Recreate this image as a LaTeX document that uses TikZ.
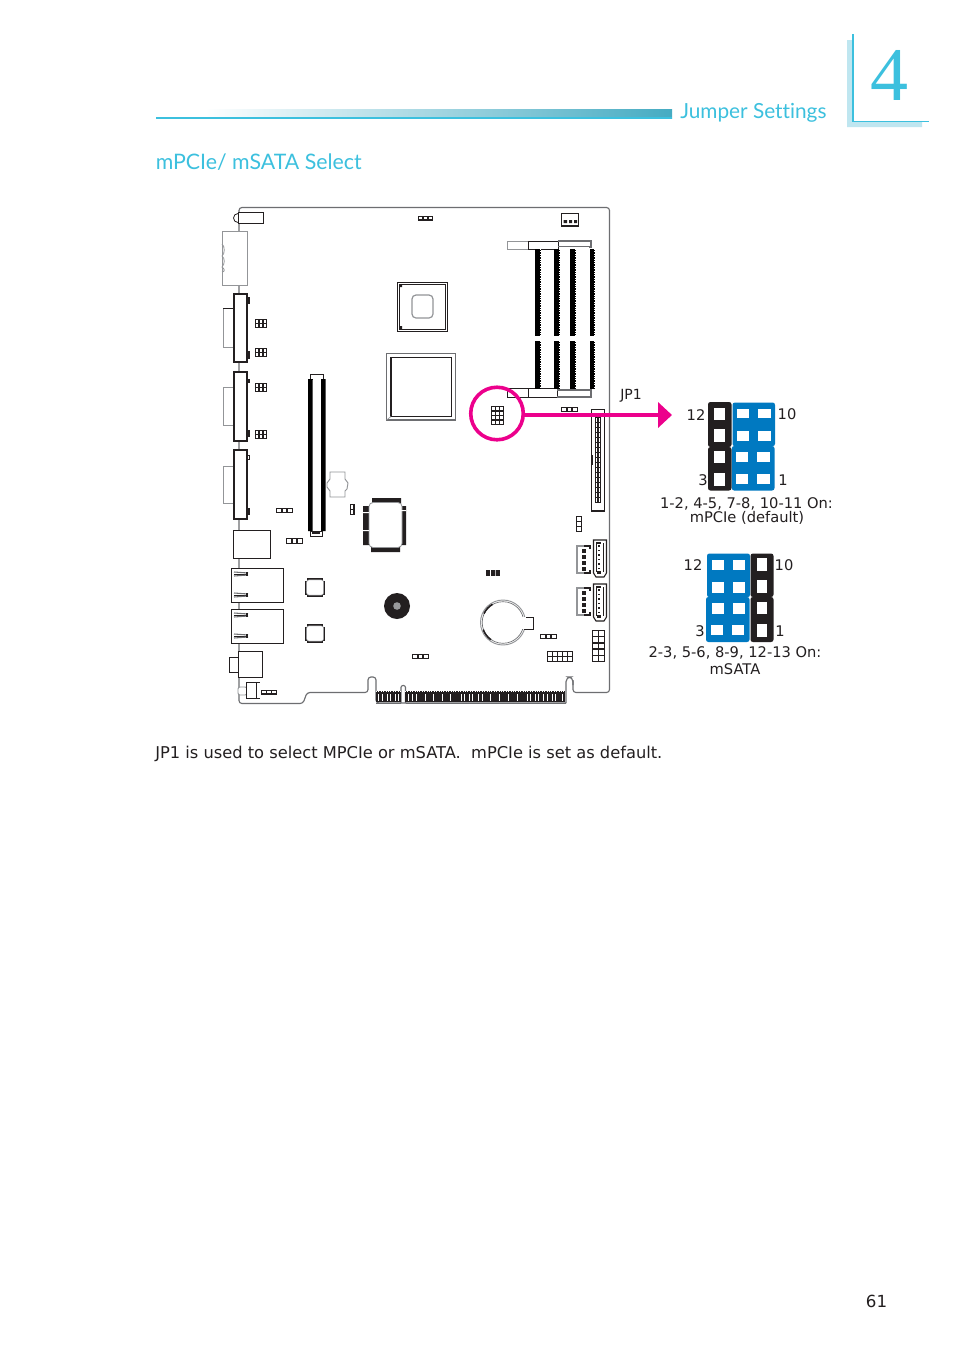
\documentclass[tikz,border=0pt]{standalone}
\usepackage{fontspec}
\setmainfont{DejaVu Sans}
\newfontfamily\headfont[Ligatures=NoCommon]{Lato}
\newfontfamily\numfont{Liberation Serif}
\usetikzlibrary{arrows.meta}
\definecolor{ink}{HTML}{231F20}
\definecolor{capblue}{HTML}{0079C1}
\definecolor{cyanhead}{HTML}{3CC0DE}
\definecolor{chapbar}{HTML}{BFE6F0}
\definecolor{tealbar}{HTML}{45ABC2}
\definecolor{magentaline}{HTML}{EC008C}
\definecolor{boardgrey}{HTML}{6D6E71}
\definecolor{ghost}{HTML}{939598}
\tikzset{
  outl/.style={draw=ink,line width=0.75pt,fill=white},
  thinl/.style={draw=ink,line width=0.6pt},
  greyl/.style={draw=ghost,line width=0.75pt,fill=white},
  boardl/.style={draw=boardgrey,line width=0.85pt,rounded corners=2.2pt},
  lbl/.style={inner sep=0pt,text=ink,font=\fontsize{11}{12}\selectfont},
  jcap/.style={rounded corners=1.8pt},
  pintips/.style={white,line width=0.6pt,dash pattern=on 0.7pt off 1.1pt},
}
% x1 y1 x2 y2 cols rows
\newcommand\pinblock[6]{%
  \fill[ink] (#1,#2) rectangle (#3,#4);
  \pgfmathsetmacro\pw{(#3-#1-1)/#5}
  \pgfmathsetmacro\ph{(#4-#2-1)/#6}
  \foreach \ci in {1,...,#5}{\foreach \cj in {1,...,#6}{
    \pgfmathsetmacro\cxa{#1+0.5+(\ci-1)*\pw+0.75}
    \pgfmathsetmacro\cya{#2+0.5+(\cj-1)*\ph+0.75}
    \pgfmathsetmacro\cxb{#1+0.5+\ci*\pw-0.75}
    \pgfmathsetmacro\cyb{#2+0.5+\cj*\ph-0.75}
    \fill[white] (\cxa,\cya) rectangle (\cxb,\cyb);
  }}
}
\newcommand\whitecells[2]{\foreach \yy/\yb in {#2}{\foreach \xx/\xb in {#1}{\fill[white] (\xx,\yy) rectangle (\xb,\yb);}}}
\begin{document}
\begin{tikzpicture}[x=0.75pt,y=-0.75pt]
\useasboundingbox (0,0) rectangle (954,1350);
\fill[white] (0,0) rectangle (954,1350);

% chapter mark
\fill[chapbar] (847,40) rectangle (853,127) (847,121) rectangle (922,127);
\draw[cyanhead,line width=0.8pt] (853,34) -- (853,121.5) -- (929,121.5);
\node[inner sep=0pt,text=cyanhead,font=\numfont\fontsize{57}{60}\selectfont] (chapnum) at (889,75) {4};

% header
\shade[left color=white,right color=tealbar] (205,109) rectangle (672,118);
\fill[cyanhead] (156,117) rectangle (672,119);
\node[inner sep=0pt,text=cyanhead,anchor=west,font=\headfont\fontsize{15.6}{20}\selectfont] (jumperhead) at (680,112.5) {Jumper Settings};
\node[inner sep=0pt,text=cyanhead,anchor=west,font=\headfont\fontsize{16}{20}\selectfont] (secthead) at (155.5,162) {mPCIe/ mSATA Select};

% board outline
\draw[boardl] (239,222) -- (239,207.5) -- (609.5,207.5) -- (609.5,692.5) -- (573,692.5) -- (573,680);
\draw[boardl,rounded corners=3.5pt] (573,685) -- (573,677) -- (566,677) -- (566,703);
\draw[boardl] (566,703) -- (376,703) -- (376,677) -- (368,677) -- (368,692.5) -- (307,692.5) -- (303,703.5) -- (239,703.5) -- (239,220);
\draw[boardl,rounded corners=1.5pt] (401,703) -- (401,685.5) -- (405.5,685.5) -- (405.5,703);

% top left connector
\draw[draw=ink,line width=0.6pt] (238,222.5) arc (90:270:4.5);
\draw[outl] (238,212.5) rectangle (263.5,223);
% serial
\draw[greyl] (222,231) rectangle (247,285);
\draw[ghost,line width=0.6pt] (222,244) .. controls (225,246) and (225,254) .. (222,256) .. controls (225,258) and (225,264) .. (222,267) .. controls (225,269) and (225,272) .. (222,272);
\foreach \ya/\yb/\la/\lb/\lc/\ld/\ma/\mb in {294/362/297/304/351/359/308/347, 372/441/379/383/430/437/387/425, 450/519/455/460/508/515/466/503}{
  \draw[greyl] (223,\ma) rectangle (234,\mb);
  \fill[ink] (247,\la) rectangle (249.5,\lb);
  \fill[ink] (247,\lc) rectangle (249.5,\ld);
  \draw[draw=ink,line width=0.85pt,fill=white] (234,\ya) rectangle (247,\yb);
}
\draw[ink,line width=0.9pt] (223,308.5) -- (234,308.5);
\fill[white] (247.5,456) rectangle (248.8,459);
% side headers
\pinblock{255}{319}{267}{328}{3}{2}
\pinblock{255}{348}{267}{357}{3}{2}
\pinblock{255}{383}{267}{392}{3}{2}
\pinblock{255}{430}{267}{439}{3}{2}
% long slot
\draw[thinl,fill=white] (310,374) rectangle (323.5,379);
\fill[black] (308,379) rectangle (312.5,531) (321,379) rectangle (325.5,531);
\fill[white] (312.5,379) rectangle (321,531);
\draw[thinl,fill=white] (310,531) rectangle (322.5,536);
\fill[ink] (312,531) rectangle (320,534);
% north bridge
\draw[outl,line width=0.9pt] (397.5,282.5) rectangle (447.5,331.5);
\draw[thinl] (399.5,284.5) rectangle (445.5,329.5);
\draw[ghost,line width=0.9pt,rounded corners=3pt] (412,295) rectangle (433,318);
\fill[ink] (400,285) rectangle (402,287) (400,326) rectangle (402,329);
% big chip
\draw[boardgrey,line width=0.8pt,fill=white] (386.5,353.5) rectangle (455.5,420);
\draw[ink,line width=0.9pt] (391,357.5) rectangle (451.5,416.5);
\draw[ghost,line width=0.5pt] (386.5,420) -- (391,416.5);
% top connectors
\pinblock{418}{216}{433}{220.5}{3}{1}
\draw[ink,line width=0.9pt,fill=white] (561.5,213.5) rectangle (578.5,226);
\fill[ink] (561,224.5) rectangle (579,227);
\fill[ink] (563.5,220) rectangle (567,223) (569,220) rectangle (572,223) (574,220) rectangle (577,223);
% SODIMM
\draw[greyl] (507,241) rectangle (528,249);
\draw[thinl,fill=white] (528,241) -- (558,241) -- (558,249) -- (528,249) -- cycle;
\draw[boardgrey,line width=0.8pt] (558,241) -- (591,241) -- (591,247) -- (589,247);
\draw[boardgrey,line width=0.6pt] (558,246) -- (591,246);
\draw[thinl,fill=white] (507,388.5) rectangle (528,397);
\draw[thinl,fill=white] (528,388.5) rectangle (557,397);
\draw[boardgrey,line width=0.8pt] (557,390) -- (591,390) -- (591,397) -- (557,397);
\foreach \xa/\xb in {535/541,554/560,570/576,590/595}{
  \fill[black] (\xa,249) rectangle (\xb,336);
  \fill[black] (\xa,341) rectangle (\xb,388.5);
  \draw[pintips] (\xb-0.3,249) -- (\xb-0.3,336) (\xb-0.3,341) -- (\xb-0.3,388.5);
}
% connectors near JP1
\pinblock{561}{407}{578}{412}{3}{1}
% long pin header
\draw[draw=ink,line width=0.9pt,fill=white] (591.5,409.5) rectangle (604.8,511);
\pinblock{595}{417}{601}{503}{2}{17}
\fill[ink] (591,455) rectangle (592.8,465);
% JP1 block
\pinblock{491}{406}{504}{425}{3}{4}
% lower-left slot items
\pinblock{276}{508}{293}{513}{3}{1}
\pinblock{286}{538}{303}{544}{3}{1}
\pinblock{350}{504}{354.5}{515}{1}{2}
% ghost socket
\draw[ghost,line width=0.7pt,fill=white] (330,472) -- (345,472) -- (345,479) -- (348,483) -- (347,489) -- (345,491) -- (345,497) -- (330,497) -- (330,491) -- (327,487) -- (327,483) -- (330,479) -- cycle;
% south chip
\fill[ink] (372,498) rectangle (401,503.5) (371,547) rectangle (400,552) (363,506) rectangle (369.5,545) (401,506) rectangle (406,545);
\draw[ghost,line width=0.6pt,fill=white,rounded corners=3pt] (369,502.5) rectangle (402,547.5);
\fill[white] (363,512) rectangle (369,513) (363,530) rectangle (369,531) (401,510) rectangle (406,511);
% rear IO lower
\draw[outl] (233.5,530.5) rectangle (270.5,558);
\draw[outl] (231.5,568.5) rectangle (283,602.5);
\draw[outl] (231.5,609.5) rectangle (283,643);
\foreach \yy in {573,594,614,635}{
  \draw[boardgrey,line width=0.8pt] (234,\yy-1) -- (248,\yy);
  \draw[ink,line width=0.7pt] (234,\yy+1) -- (248,\yy+1);
  \draw[boardgrey,line width=0.8pt] (234,\yy+3) -- (248,\yy+2);
  \fill[ink] (246,\yy-1) rectangle (248,\yy+3);
}
% small square chips
\foreach \ya/\yb in {578/597,624/643}{
  \fill[ink] (307,\ya) rectangle (323,\yb);
  \fill[ink] (305,\ya+2.5) rectangle (325,\yb-2.5);
  \draw[ghost,line width=0.4pt,fill=white,rounded corners=2pt] (306.5,\ya+1.8) rectangle (323.7,\yb-1.8);
}
% buzzer
\fill[ink] (397,606) circle[radius=13];
\fill[boardgrey!70] (397,606) circle[radius=3.8];
% audio
\draw[outl] (229.5,657.5) rectangle (238,672);
\draw[outl] (238,651.5) rectangle (262.5,677);
% power jack
\draw[ghost,line width=0.7pt,fill=white,rounded corners=1.5pt] (238,687) rectangle (247,695);
\draw[draw=ink,line width=0.6pt,fill=white] (246,682) rectangle (256,698);
\draw[ink,line width=0.6pt] (246,682) -- (260,682) (246,698) -- (260,698);
\pinblock{261}{690}{277}{694.5}{3}{1}
% bottom right connectors
\pinblock{576}{516}{582}{532}{1}{3}
\pinblock{412}{654}{429}{659}{3}{1}
\fill[ink] (486,570) rectangle (500,576);
\fill[white] (490.2,570) rectangle (490.8,576) (495,570) rectangle (495.6,576);
\pinblock{540}{634}{557}{639}{3}{1}
\pinblock{547}{651}{573}{662}{5}{2}
\pinblock{592}{630}{605}{662}{2}{5}
% fan headers
\foreach \ya in {546,588}{
  \draw[ghost,line width=0.9pt] (590,\ya) -- (577,\ya) -- (577,\ya+27) -- (590,\ya+27);
  \draw[ink,line width=0.8pt] (584,\ya) -- (590,\ya) -- (590,\ya+3);
  \draw[ink,line width=0.8pt] (584,\ya+27) -- (590,\ya+27) -- (590,\ya+24);
  \foreach \k in {0,1,2,3}{\fill[ink] (582,\ya+3+\k*6) rectangle (586,\ya+7+\k*6);}
}
% wafer connectors
\foreach \ya in {540,584}{
  \draw[draw=ink,line width=0.8pt,fill=white] (593.5,\ya) -- (606.5,\ya) -- (606.5,\ya+33) -- (604,\ya+37) -- (596,\ya+37) -- (593.5,\ya+33) -- cycle;
  \draw[ink,line width=0.5pt] (596,\ya+3) -- (596,\ya+32) (603,\ya+3) -- (603,\ya+32);
  \fill[ink] (596,\ya+2) rectangle (601,\ya+3.5);
  \foreach \k in {0,1,2,3,4,5,6}{\fill[ink] (598,\ya+5+\k*4.5) rectangle (600,\ya+6.5+\k*4.5);}
  \fill[ink] (597,\ya+31) rectangle (600.5,\ya+34);
}
% battery
\draw[ghost,line width=0.7pt,fill=white] (503,622.5) circle[radius=22.5];
\draw[boardgrey,line width=0.5pt] (503,622.5) circle[radius=20.8];
\fill[white] (523,617.5) rectangle (527,628.5);
\draw[ink,line width=0.6pt,fill=white] (523.5,617) -- (533,617) -- (533,629) -- (523.5,629);
\fill[white] (520,617.4) rectangle (526,628.6);
\draw[ink,line width=1.2pt] (503,622.5) ++(205:21) arc (205:240:21);
\draw[ink,line width=1.2pt] (503,622.5) ++(125:21) arc (125:160:21);
% PCIe
\fill[ink] (376,691) rectangle (401,702);
\fill[ink] (405,691) rectangle (565,702);
\draw[boardgrey,line width=0.6pt] (376,703) -- (401,703) (405.5,703) -- (566,703);
\foreach \x in {378,382,387,390,395,398}{\fill[white] (\x,693.5) rectangle (\x+1.3,701);}
\foreach \x in {408,412,416,425,433,442,450,461,464,469,472,478,482,490,499,508,517,527,530,535,538,543,547,552,555,562}{\fill[white] (\x,693.5) rectangle (\x+1.4,701);}
\draw[pintips] (376,691.2) -- (401,691.2) (405,691.2) -- (565,691.2);

% JP1 pointer
\node[circle,draw=magentaline,line width=2.7pt,inner sep=0pt,minimum size=39.4pt,fill=none] (jpring) at (497,413.5) {};
\coordinate (jptip) at (672,415);
\draw[magentaline,line width=2.7pt,-{Triangle[length=10.5pt,width=18.8pt]}] (jpring.east |- jptip) -- (jptip);
\node[lbl,font=\fontsize{10.5}{12}\selectfont] (jplabel) at (631,396) {JP1};

% jumper 1
\fill[ink,jcap] (708,402) rectangle (731.5,447);
\fill[ink,jcap] (708,447) rectangle (731.5,490.5);
\fill[capblue,jcap] (732.5,402.5) rectangle (775,446.2);
\fill[capblue,jcap] (731.8,446) rectangle (774.5,490.5);
\whitecells{714/725}{408/420,429/442,451/463,473/486}
\whitecells{737/749,758/771}{409/418,431/441}
\whitecells{736/748,757/770}{452/462,474/484}
\node[lbl] (a12) at (696,415) {12};
\node[lbl] (a10) at (787,414) {10};
\node[lbl] (a3) at (703,480) {3};
\node[lbl] (a1) at (783,480) {1};
\node[lbl] (acap1) at (746.5,503.5) {1-2, 4-5, 7-8, 10-11 On:};
\node[lbl] (acap2) at (747,518) {mPCIe (default)};

% jumper 2
\fill[capblue,jcap] (707,553.5) rectangle (750,597.2);
\fill[capblue,jcap] (706,597) rectangle (749.5,642);
\fill[ink,jcap] (750.5,553.5) rectangle (773.5,597);
\fill[ink,jcap] (750.5,597) rectangle (773.5,642);
\whitecells{757/767}{558/571,580/593,602/614,624/637}
\whitecells{712/724,733/745}{560/570,582/593,603/614}
\whitecells{711/723,732/744}{625/635}
\node[lbl] (b12) at (693,565) {12};
\node[lbl] (b10) at (784,565) {10};
\node[lbl] (b3) at (700,631) {3};
\node[lbl] (b1) at (780,631) {1};
\node[lbl] (bcap1) at (735,653) {2-3, 5-6, 8-9, 12-13 On:};
\node[lbl] (bcap2) at (735,669) {mSATA};

% body
\node[inner sep=0pt,anchor=west,text=ink,font=\fontsize{12.2}{14}\selectfont] (bodytxt) at (155,754) {JP1 is used to select MPCIe or mSATA.\ \ mPCIe is set as default.};
\node[inner sep=0pt,text=ink,font=\fontsize{12.5}{14}\selectfont] (pagenum) at (876.5,1301.5) {61};
\end{tikzpicture}
\end{document}
